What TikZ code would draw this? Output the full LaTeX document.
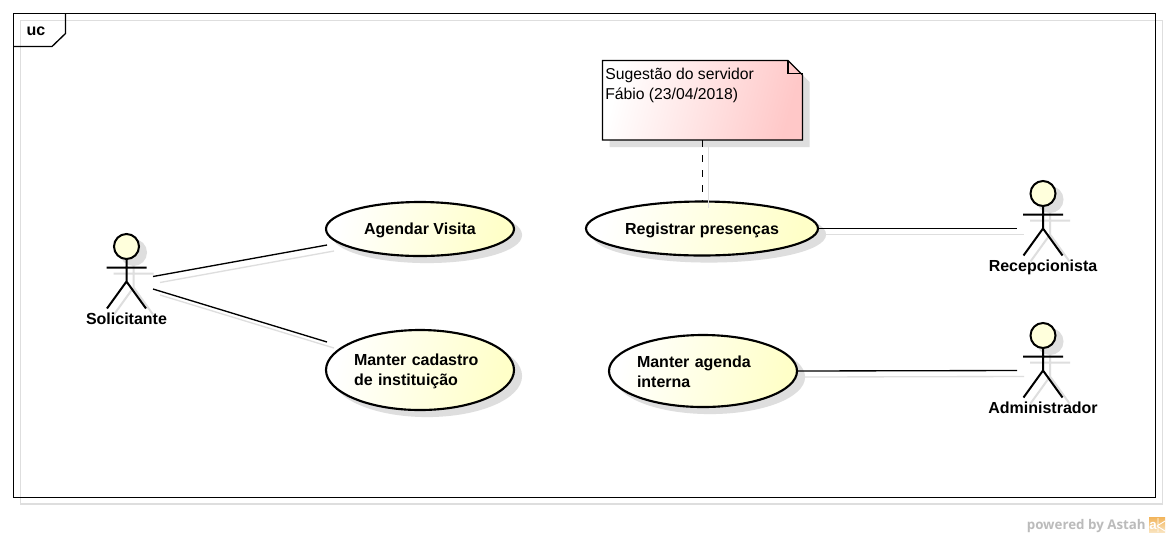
\documentclass[tikz,border=0pt]{standalone}
\usepackage{fontspec}
\setmainfont{Liberation Sans}
\newfontfamily\wmfont{Open Sans}
\usetikzlibrary{shapes.geometric,calc}
\definecolor{shad}{HTML}{DEDEDE}
\definecolor{ucy}{HTML}{FFFFC8}
\definecolor{notepink}{HTML}{FFC8C8}
\definecolor{headfill}{HTML}{FFFFDC}
\definecolor{wm}{HTML}{BBBBBB}
\definecolor{logo}{HTML}{F2B45A}
\definecolor{logob}{HTML}{F9E3BE}
\newcommand{\lowr}{\rule{0pt}{11pt}}
\tikzset{
  x=0.75pt,y=-0.75pt,
  conn/.style={draw=black,line width=1pt},
  connshad/.style={draw=shad,line width=1pt},
  stick/.style={draw=black,line width=1.5pt},
  stickshad/.style={draw=shad,line width=1.5pt},
  uc/.style={ellipse,draw=black,line width=1.6pt,shade,left color=white,right color=ucy,shading angle=75,
     inner sep=0pt,outer sep=0pt,font=\fontsize{12}{15}\selectfont\bfseries,align=left},
  ucshad/.style={ellipse,fill=shad,draw=shad,line width=1.6pt,inner sep=0pt,outer sep=0pt},
  actorname/.style={font=\fontsize{12}{15}\selectfont\bfseries,inner sep=0pt,anchor=base},
  notetext/.style={font=\fontsize{11.8}{15}\selectfont,align=left,inner sep=0pt,anchor=north west},
}
\newcommand{\ucactor}[5]{% name, x, y(head), label, baseline y
  \begin{scope}[shift={(#2+7,#3+6)}]
    \draw[stickshad,fill=shad] (0,0) circle[radius=12.5];
    \draw[stickshad] (0,12.5) -- (0,35) (-20,21) -- (20,21) (-19.5,62) -- (0,35) -- (19.5,62);
  \end{scope}
  \begin{scope}[shift={(#2,#3)}]
    \draw[stick] (0,12.5) -- (0,35) (-20,21) -- (20,21) (-19.5,62) -- (0,35) -- (19.5,62);
  \end{scope}
  \node[circle,draw=black,fill=headfill,line width=1.5pt,minimum size=18.75pt,inner sep=0pt,outer sep=0pt] (#1) at (#2,#3) {};
  \node[actorname] (#1name) at (#2,#5) {#4};
}
\begin{document}
\begin{tikzpicture}
\useasboundingbox (0,0) rectangle (1169,537);
\fill[white] (0,0) rectangle (1169,537);
% frame
\draw[shad,line width=1pt] (20.5,20.5) rectangle (1162.5,504);
\draw[black,line width=1pt,fill=none] (13.5,13.5) rectangle (1155.5,497.5);
\draw[black,line width=1pt] (65.5,13.5) -- (65.5,33.5) -- (52,46.5) -- (13,46.5);
\node[font=\fontsize{12}{15}\selectfont\bfseries,inner sep=0pt] (frametag) at (36,31) {uc};
% note
\fill[shad] (609.5,67.5) -- (795,67.5) -- (809.5,82) -- (809.5,147) -- (609.5,147) -- cycle;
\path[draw=black,line width=1pt,shade,left color=white,right color=notepink,shading angle=75]
  (602.5,60.5) -- (788,60.5) -- (802.5,75) -- (802.5,140) -- (602.5,140) -- cycle;
\draw[black,line width=1pt] (788,60.5) -- (788,73.5) -- (802.5,73.5);
\node[notetext] (note) at (605,68) {Sugestão do servidor\\Fábio (23/04/2018)};
\coordinate (noteb) at (702,140);
% shadows of use cases
\node[ucshad,minimum width=141pt,minimum height=40.5pt] (s1) at (427,235) {};
\node[ucshad,minimum width=141pt,minimum height=60pt] (s2) at (427,376) {};
\node[ucshad,minimum width=174pt,minimum height=40.5pt] (s3) at (709,234.5) {};
\node[ucshad,minimum width=141pt,minimum height=54pt] (s4) at (710,377) {};
% use cases
\node[uc,minimum width=141pt,minimum height=40.5pt] (agendar) at (420,229) {\lowr Agendar Visita};
\node[uc,minimum width=141pt,minimum height=60pt,text width=99pt] (cadastro) at (420,370) {\lowr Manter cadastro\\de instituição};
\node[uc,minimum width=174pt,minimum height=40.5pt] (registrar) at (702,228.5) {\lowr Registrar presenças};
\node[uc,minimum width=141pt,minimum height=54pt,text width=99pt] (agenda) at (703,371) {\lowr Manter agenda\\interna\rule[-1.5pt]{0pt}{0pt}};
% actors
\ucactor{solicitante}{126.5}{246.5}{Solicitante}{324}
\ucactor{recepcionista}{1043}{193.5}{Recepcionista}{271.5}
\ucactor{administrador}{1043}{335.5}{Administrador}{413.5}
% connector shadows
\draw[connshad] ([shift={(33.5,36)}]solicitante.center) -- ([shift={(-86,22)}]agendar.center);
\draw[connshad] ([shift={(33.5,48.5)}]solicitante.center) -- ([shift={(-86,-22)}]cadastro.center);
\draw[connshad] ([shift={(123,6)}]registrar.center) -- ([shift={(-19,41)}]recepcionista.center);
\draw[connshad] ([shift={(102,6)}]agenda.center) -- ([shift={(-19,41)}]administrador.center);
\draw[draw=shad,line width=1pt] (708.5,147) -- (708.5,208);
% connectors
\draw[conn] ([shift={(26.5,30)}]solicitante.center) -- ([shift={(-93,16)}]agendar.center);
\draw[conn] ([shift={(26.5,42.5)}]solicitante.center) -- ([shift={(-93,-28)}]cadastro.center);
\draw[conn] (registrar.east) -- ([shift={(-26,35)}]recepcionista.center);
\draw[conn] (agenda.east) -- ([shift={(-26,35)}]administrador.center);
\draw[black,line width=0.75pt,dash pattern=on 5.25pt off 6pt] (noteb) -- (registrar.north);
% watermark
\node[font=\fontsize{10}{12}\wmfont\bfseries,text=wm,inner sep=0pt,anchor=base east] (wm) at (1146,529) {powered by Astah};
\shade[top color=logo,bottom color=logob] (1149,517) rectangle (1165,532);
\draw[white,line width=0.7pt] (1157,526) -- (1165,521) (1157,526) -- (1165,531) (1158,518) -- (1158,532);
\node[font=\fontsize{10}{10}\selectfont\bfseries,text=white,inner sep=0pt] (logoa) at (1153,526) {a};
\end{tikzpicture}
\end{document}
